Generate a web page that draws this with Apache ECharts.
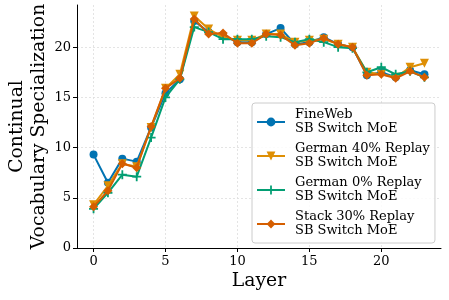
<!DOCTYPE html>
<html>
<head>
<meta charset="utf-8">
<script src="https://cdn.jsdelivr.net/npm/echarts@6/dist/echarts.min.js"></script>
<style>
html,body{margin:0;padding:0;background:#fff;}
#c{width:449px;height:300px;}
</style>
</head>
<body>
<div id="c"></div>
<script>
const layers = [0,1,2,3,4,5,6,7,8,9,10,11,12,13,14,15,16,17,18,19,20,21,22,23];
const fineweb   = [9.3,6.5,8.9,8.6,12.0,15.4,16.8,22.6,21.5,21.2,20.5,20.5,21.3,21.9,20.3,20.5,21.0,20.3,20.0,17.2,17.5,17.0,17.7,17.3];
const german40  = [4.3,6.2,8.4,8.1,12.0,15.9,17.3,23.1,21.8,21.0,20.7,20.7,21.3,21.3,20.5,20.7,20.8,20.3,20.0,17.5,17.3,17.0,18.0,18.4];
const german0   = [3.9,5.5,7.3,7.1,11.0,15.0,16.8,22.0,21.5,20.8,20.8,20.8,21.1,21.0,20.5,20.8,20.5,20.0,19.9,17.5,18.0,17.3,17.6,17.0];
const stack30   = [4.1,5.7,8.4,8.0,12.1,15.9,16.9,22.8,21.3,21.4,20.4,20.4,21.3,21.2,20.2,20.4,20.9,20.3,20.0,17.2,17.3,16.9,17.6,17.0];
const seriesNames = [
  "FineWeb\nSB Switch MoE",
  "German 40% Replay\nSB Switch MoE",
  "German 0% Replay\nSB Switch MoE",
  "Stack 30% Replay\nSB Switch MoE"
];
const xTicks = [0,5,10,15,20];
const yTicks = [0,5,10,15,20];

const colors = ['#0173B2','#DE8F05','#029E73','#D55E00'];
const plusPath = 'path://M4,0h2v4h4v2h-4v4h-2v-4h-4v-2h4z';
const markers = [
  {symbol:'circle', size:8, rotate:0},
  {symbol:'triangle', size:9, rotate:180},
  {symbol:plusPath, size:9, rotate:0},
  {symbol:'diamond', size:9, rotate:0}
];
const allData = [fineweb, german40, german0, stack30];
const font = 'DejaVu Serif';

const chart = echarts.init(document.getElementById('c'), null, {renderer:'canvas'});
chart.setOption({
  animation:false,
  backgroundColor:'#fff',
  grid:{left:77, right:8, top:5, bottom:52, containLabel:false, outerBoundsMode:'none'},
  legend:{
    left:252, top:103, orient:'vertical',
    itemWidth:28, itemHeight:11, itemGap:6,
    padding:[5,5,5,4],
    backgroundColor:'rgba(255,255,255,0.85)',
    borderColor:'#cccccc', borderWidth:1, borderRadius:3,
    textStyle:{fontFamily:font, fontSize:13, color:'#000', lineHeight:14, padding:[0,0,0,5]},
    data:seriesNames
  },
  xAxis:{
    type:'value', min:-1.15, max:24.15,
    name:'Layer', nameLocation:'middle', nameGap:24, nameMoveOverlap:false,
    nameTextStyle:{fontFamily:font, fontSize:18.8, color:'#000'},
    axisLine:{show:true, onZero:false, lineStyle:{color:'#000', width:1}},
    axisTick:{show:true, length:4, customValues:xTicks, lineStyle:{color:'#000'}},
    axisLabel:{customValues:xTicks, fontFamily:font, fontSize:13, color:'#000', margin:7},
    splitLine:{show:true, lineStyle:{color:'#dddddd', type:[2,2], width:0.8}}
  },
  yAxis:{
    type:'value', min:0, max:24.2,
    name:'Continual\nVocabulary Specialization', nameLocation:'middle', nameGap:27, nameMoveOverlap:false,
    nameTextStyle:{fontFamily:font, fontSize:18.8, color:'#000', lineHeight:22},
    axisLine:{show:true, onZero:false, lineStyle:{color:'#000', width:1}},
    axisTick:{show:true, length:4, customValues:yTicks, lineStyle:{color:'#000'}},
    axisLabel:{customValues:yTicks, fontFamily:font, fontSize:13, color:'#000', margin:6},
    splitLine:{show:true, lineStyle:{color:'#dddddd', type:[2,2], width:0.8}}
  },
  series: allData.map((arr,i)=>({
    name:seriesNames[i],
    type:'line',
    data:layers.map((l,j)=>[l,arr[j]]),
    symbol:markers[i].symbol,
    symbolSize:markers[i].size,
    symbolRotate:markers[i].rotate,
    showAllSymbol:true,
    lineStyle:{color:colors[i], width:2},
    itemStyle:{color:colors[i], borderWidth:0},
    z:2+i
  }))
});
</script>
</body>
</html>
